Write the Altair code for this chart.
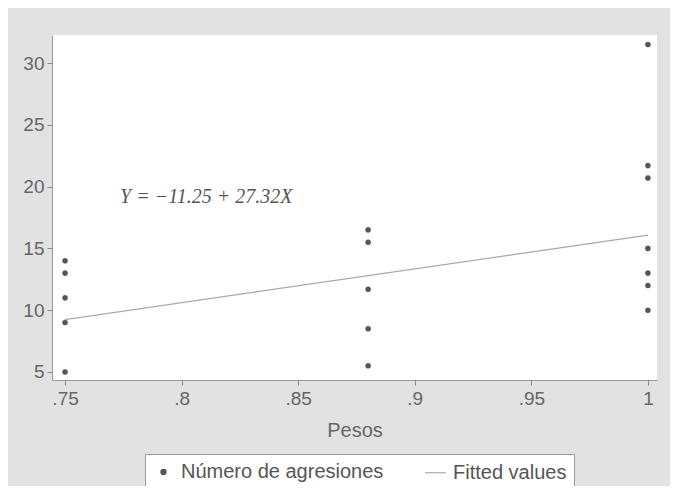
import altair as alt
import pandas as pd

# Scatter data
pesos = [0.75, 0.75, 0.75, 0.75, 0.75,
         0.88, 0.88, 0.88, 0.88, 0.88,
         1.0, 1.0, 1.0, 1.0, 1.0, 1.0, 1.0]
agresiones = [14, 13, 11, 9, 5,
              16.5, 15.5, 11.7, 8.5, 5.5,
              31.5, 21.7, 20.7, 15, 13, 12, 10]

# Fitted line endpoints (Y = -11.25 + 27.32X)
fit_x = [0.75, 1.0]
fit_y = [9.24, 16.07]

series_names = ["Número de agresiones", "Fitted values"]
x_ticks = [0.75, 0.8, 0.85, 0.9, 0.95, 1.0]
y_ticks = [5, 10, 15, 20, 25, 30]
equation = ["Y = −11.25 + 27.32X"]

pts = pd.DataFrame({"x": pesos, "y": agresiones, "series": series_names[0]})
fit = pd.DataFrame({"x": fit_x, "y": fit_y, "series": series_names[1]})
ann = pd.DataFrame({"x": [0.7736], "y": [19.2], "t": equation})

xscale = alt.Scale(domain=[0.7444, 1.0039], nice=False, zero=False)
yscale = alt.Scale(domain=[4.35, 32.27], nice=False, zero=False)

xaxis = alt.Axis(values=x_ticks, title="Pesos", grid=False,
                 labelExpr="replace(format(datum.value, '.2~f'), /^0/, '')",
                 labelFontSize=19, labelColor="#666", labelFont="Liberation Sans",
                 titleFontSize=20, titleColor="#666", titleFont="Liberation Sans",
                 titleFontWeight="normal", titlePadding=12, labelPadding=4,
                 tickSize=5, tickColor="#888", domainColor="#999", labelFlush=False)
yaxis = alt.Axis(values=y_ticks, title=None, grid=False,
                 labelFontSize=19, labelColor="#666", labelFont="Liberation Sans",
                 labelPadding=3, tickSize=5, tickColor="#888", domainColor="#999")

legend = alt.Legend(title=None, orient="none", legendX=93, legendY=419,
                    direction="horizontal", columns=2, columnPadding=38,
                    labelFontSize=20, labelColor="#555", labelFont="Liberation Sans",
                    labelLimit=400,
                    fillColor="white", strokeColor="#999", padding=7,
                    symbolStrokeWidth=1.2, labelOffset=6)

dom = series_names

points = alt.Chart(pts).mark_point(filled=True, opacity=1, strokeWidth=0.5).encode(
    x=alt.X("x:Q", scale=xscale, axis=xaxis),
    y=alt.Y("y:Q", scale=yscale, axis=yaxis),
    fill=alt.Fill("series:N", scale=alt.Scale(domain=dom, range=["#555555", "#555555"]), legend=legend),
    stroke=alt.Stroke("series:N", scale=alt.Scale(domain=dom, range=["#555555", "#aaaaaa"]), legend=legend),
    shape=alt.Shape("series:N", scale=alt.Scale(domain=dom, range=["circle", "stroke"]), legend=legend),
    size=alt.Size("series:N", scale=alt.Scale(type="ordinal", domain=dom, range=[26, 441]), legend=legend),
)

line = alt.Chart(fit).mark_line(color="#aaaaaa", strokeWidth=1.2).encode(
    x=alt.X("x:Q", scale=xscale),
    y=alt.Y("y:Q", scale=yscale),
)

text = alt.Chart(ann).mark_text(align="left", baseline="middle", font="Liberation Serif",
                                 fontStyle="italic", fontSize=20, color="#555").encode(
    x=alt.X("x:Q", scale=xscale),
    y=alt.Y("y:Q", scale=yscale),
    text="t:N",
)

chart = alt.layer(line, points, text).properties(
    width=605, height=345,
    autosize=alt.AutoSizeParams(type="none"),
    padding={"left": 44, "top": 27, "right": 13, "bottom": 106},
    background="#e2e2e2",
).configure_view(fill="white", stroke=None)

chart.save("out.html", embed_options={"renderer": "svg", "actions": False})
